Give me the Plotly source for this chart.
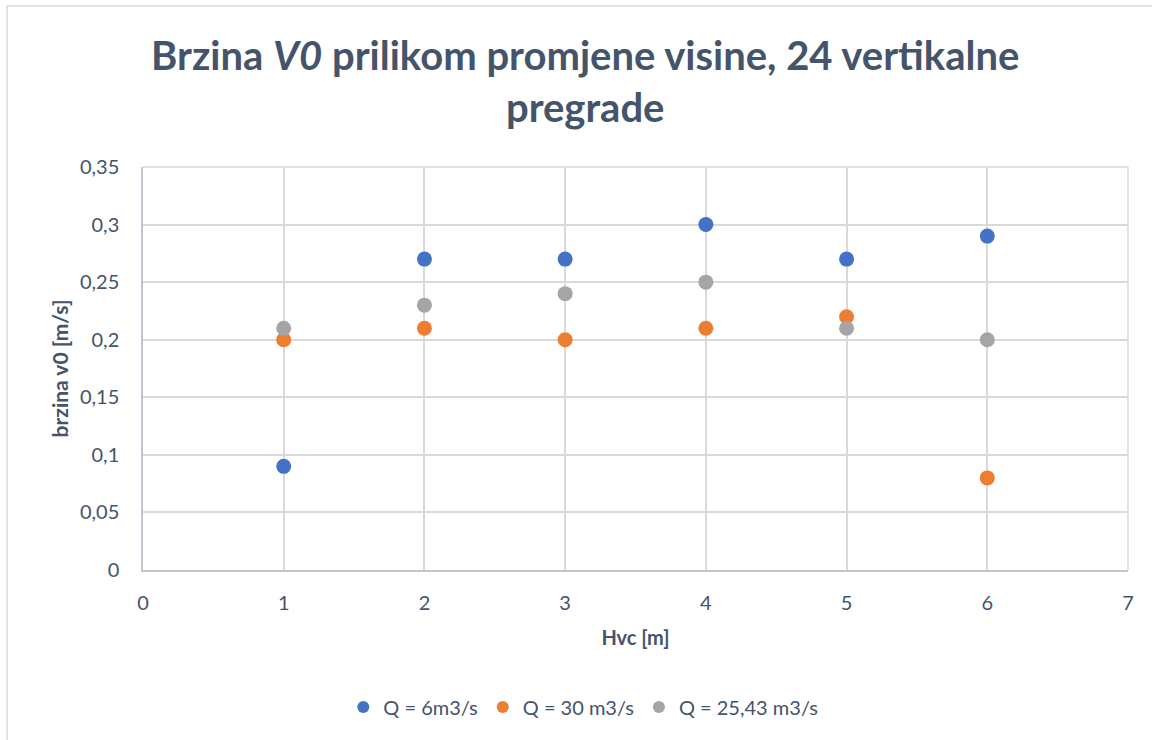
import plotly.graph_objects as go

# Height of the vertical baffles [m]
hvc = [1, 2, 3, 4, 5, 6]

# Velocity v0 [m/s] per discharge
v_q6 = [0.09, 0.27, 0.27, 0.30, 0.27, 0.29]
v_q30 = [0.20, 0.21, 0.20, 0.21, 0.22, 0.08]
v_q2543 = [0.21, 0.23, 0.24, 0.25, 0.21, 0.20]

series_names = ["Q = 6m3/s", "Q = 30 m3/s", "Q = 25,43 m3/s"]
series_colors = ["#4472C4", "#ED7D31", "#A5A5A5"]

y_ticks = [0, 0.05, 0.1, 0.15, 0.2, 0.25, 0.3, 0.35]
y_tick_text = ["0", "0,05", "0,1", "0,15", "0,2", "0,25", "0,3", "0,35"]
x_ticks = [0, 1, 2, 3, 4, 5, 6, 7]

FONT = "Lato, 'Open Sans', sans-serif"
TEXT = "#44546A"

fig = go.Figure()
for name, vals, col in zip(series_names, [v_q6, v_q30, v_q2543], series_colors):
    fig.add_trace(go.Scatter(
        x=hvc, y=vals, mode="markers", name=name,
        marker=dict(size=15, color=col, line=dict(width=0)),
    ))

fig.update_layout(
    width=1152, height=740,
    margin=dict(l=143, r=24, t=167, b=170),
    paper_bgcolor="white", plot_bgcolor="white",
    font=dict(family=FONT, color=TEXT, size=20),
    title=dict(
        text="<b>Brzina <i>V0</i> prilikom promjene visine, 24 vertikalne<br>pregrade</b>",
        x=0.508, xanchor="center", y=0.905, yanchor="middle",
        font=dict(family=FONT, size=40, color=TEXT),
    ),
    xaxis=dict(
        range=[0, 7], tickvals=x_ticks, showgrid=True, gridcolor="#D9D9D9",
        gridwidth=1.5, zeroline=False, showline=True, linecolor="#BFC7D2",
        linewidth=1.5, ticks="", ticklen=0, ticklabelstandoff=14,
        tickfont=dict(size=20, color=TEXT),
        title=dict(text="<b>Hvc [m]</b>", font=dict(size=20, color=TEXT), standoff=18),
    ),
    yaxis=dict(
        range=[0, 0.35], tickvals=y_ticks, ticktext=y_tick_text,
        showgrid=True, gridcolor="#D9D9D9", gridwidth=1.5, zeroline=False,
        showline=True, linecolor="#BFC7D2", linewidth=1.5, ticks="",
        ticklabelstandoff=18,
        tickfont=dict(size=20, color=TEXT),
        title=dict(text="<b>brzina v0 [m/s]</b>", font=dict(size=21, color=TEXT), standoff=6),
    ),
    legend=dict(
        orientation="h", x=0.447, xanchor="center", y=-0.34, yanchor="middle",
        font=dict(size=20, color=TEXT), itemsizing="constant",
        itemwidth=30, traceorder="normal",
    ),
    showlegend=True,
)

# right and top edges of the plot area
fig.add_shape(type="line", xref="paper", yref="paper", x0=1, x1=1, y0=0, y1=1,
              line=dict(color="#D9D9D9", width=1.5))
fig.add_shape(type="line", xref="paper", yref="paper", x0=0, x1=1, y0=1, y1=1,
              line=dict(color="#D9D9D9", width=1.5))

# chart-area frame
fig.add_shape(type="rect", xref="paper", yref="paper",
              x0=(7 - 143) / 985, x1=(1160 - 143) / 985,
              y0=(570 - 750) / 403, y1=(570 - 6) / 403,
              line=dict(color="#D9D9D9", width=1.5), layer="below")

fig.write_html("out.html")
